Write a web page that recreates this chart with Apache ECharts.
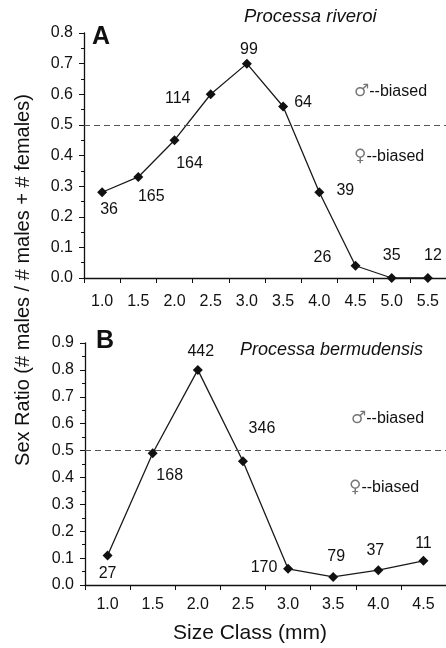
<!DOCTYPE html>
<html>
<head>
<meta charset="utf-8">
<script src="https://cdn.jsdelivr.net/npm/echarts@6/dist/echarts.min.js"></script>
<style>
    html, body { margin: 0; padding: 0; background: #fff; }
    #chart { width: 446px; height: 648px; }
</style>
</head>
<body>
<div id="chart"></div>
<script>
    // panel A - Processa riveroi
    var sizeA = ['1.0', '1.5', '2.0', '2.5', '3.0', '3.5', '4.0', '4.5', '5.0', '5.5'];
    var ratioA = [0.28, 0.33, 0.45, 0.60, 0.70, 0.56, 0.28, 0.04, 0.0, 0.0];
    var nA = [36, 165, 164, 114, 99, 64, 39, 26, 35, 12];

    // panel B - Processa bermudensis
    var sizeB = ['1.0', '1.5', '2.0', '2.5', '3.0', '3.5', '4.0', '4.5'];
    var ratioB = [0.11, 0.49, 0.80, 0.46, 0.06, 0.03, 0.055, 0.09];
    var nB = [27, 168, 442, 346, 170, 79, 37, 11];

    var yTicksA = [0, 0.8, 0.1];
    var yTicksB = [0, 0.9, 0.1];

    // label offsets from the marker (px)
    var offA = [[7, 17], [13, 20], [15, 23], [-33, 4], [2, -14], [20, -4], [26, -2], [-33, -8], [0, -22], [5, -22]];
    var offB = [[0, 18], [17, 22], [3, -18], [19, -33], [-24, -1], [3, -20], [-3, -20], [0, -17]];

    var font = 'Liberation Sans, Arial, sans-serif';

    function points(vals, ns, offs) {
        return vals.map(function (v, i) {
            return {
                value: v,
                label: {
                    show: true,
                    formatter: String(ns[i]),
                    position: 'inside',
                    offset: offs[i]
                }
            };
        });
    }

    function xAxis(idx, cats, gap) {
        return {
            type: 'category',
            gridIndex: idx,
            data: cats,
            boundaryGap: true,
            axisLine: {lineStyle: {color: '#111', width: 1.3}},
            axisTick: {show: true, length: 5, lineStyle: {color: '#111'}},
            axisLabel: {color: '#111', fontSize: 16, fontFamily: font, margin: gap}
        };
    }

    function yAxis(idx, t) {
        return {
            type: 'value',
            gridIndex: idx,
            min: t[0],
            max: t[1],
            interval: t[2],
            axisLine: {show: true, lineStyle: {color: '#111', width: 1.3}},
            axisTick: {show: true, length: 5, lineStyle: {color: '#111'}},
            minorTick: {show: true, splitNumber: 2, length: 3, lineStyle: {color: '#111'}},
            splitLine: {show: false},
            axisLabel: {color: '#111', fontSize: 16, fontFamily: font, margin: 11,
                formatter: function (v) { return v.toFixed(1); }}
        };
    }

    function series(idx, vals, ns, offs) {
        return {
            type: 'line',
            xAxisIndex: idx,
            yAxisIndex: idx,
            data: points(vals, ns, offs),
            symbol: 'diamond',
            symbolSize: 10,
            itemStyle: {color: '#111'},
            lineStyle: {color: '#1a1a1a', width: 1.3},
            label: {color: '#111', fontSize: 16, fontFamily: font},
            z: 3,
            markLine: {
                silent: true,
                symbol: 'none',
                label: {show: false},
                lineStyle: {color: '#555', type: [6, 4], width: 1},
                data: [{yAxis: 0.5}]
            }
        };
    }

    function note(x, y, sym) {
        return {
            type: 'text', left: x, top: y,
            style: {
                text: '{s|' + sym + '}{t|--biased}',
                rich: {
                    s: {fontSize: 17, fill: '#777', fontFamily: 'DejaVu Sans'},
                    t: {fontSize: 16, fill: '#111', fontFamily: font}
                }
            }
        };
    }

    var myChart = echarts.init(document.getElementById('chart'));

    var option = {
        animation: false,
        backgroundColor: '#fff',
        grid: [
            {left: 84, top: 33, right: 0, height: 245},
            {left: 85, top: 343, right: 0, height: 242}
        ],
        xAxis: [xAxis(0, sizeA, 16), xAxis(1, sizeB, 12)],
        yAxis: [yAxis(0, yTicksA), yAxis(1, yTicksB)],
        series: [series(0, ratioA, nA, offA), series(1, ratioB, nB, offB)],
        graphic: [
            {type: 'text', left: 92, top: 25, style: {text: 'A', fontSize: 25, fontWeight: 'bold', fill: '#111', fontFamily: font}},
            {type: 'text', left: 96, top: 329, style: {text: 'B', fontSize: 25, fontWeight: 'bold', fill: '#111', fontFamily: font}},
            {type: 'text', left: 244, top: 7, style: {text: 'Processa riveroi', fontSize: 18.5, fontStyle: 'italic', fill: '#111', fontFamily: font}},
            {type: 'text', left: 240, top: 341, style: {text: 'Processa bermudensis', fontSize: 18, fontStyle: 'italic', fill: '#111', fontFamily: font}},
            note(354, 83, '\u2642'),
            note(354, 148, '\u2640'),
            note(351, 410, '\u2642'),
            note(349, 479, '\u2640'),
            {
                type: 'text', x: 23, y: 280, rotation: Math.PI / 2,
                style: {
                    text: 'Sex Ratio (# males / # males + # females)',
                    fontSize: 20, fill: '#111', fontFamily: font,
                    align: 'center', verticalAlign: 'middle'
                }
            },
            {
                type: 'text', x: 250, y: 633,
                style: {
                    text: 'Size Class (mm)',
                    fontSize: 21, fill: '#111', fontFamily: font,
                    align: 'center', verticalAlign: 'middle'
                }
            }
        ]
    };

    myChart.setOption(option);
</script>
</body>
</html>
